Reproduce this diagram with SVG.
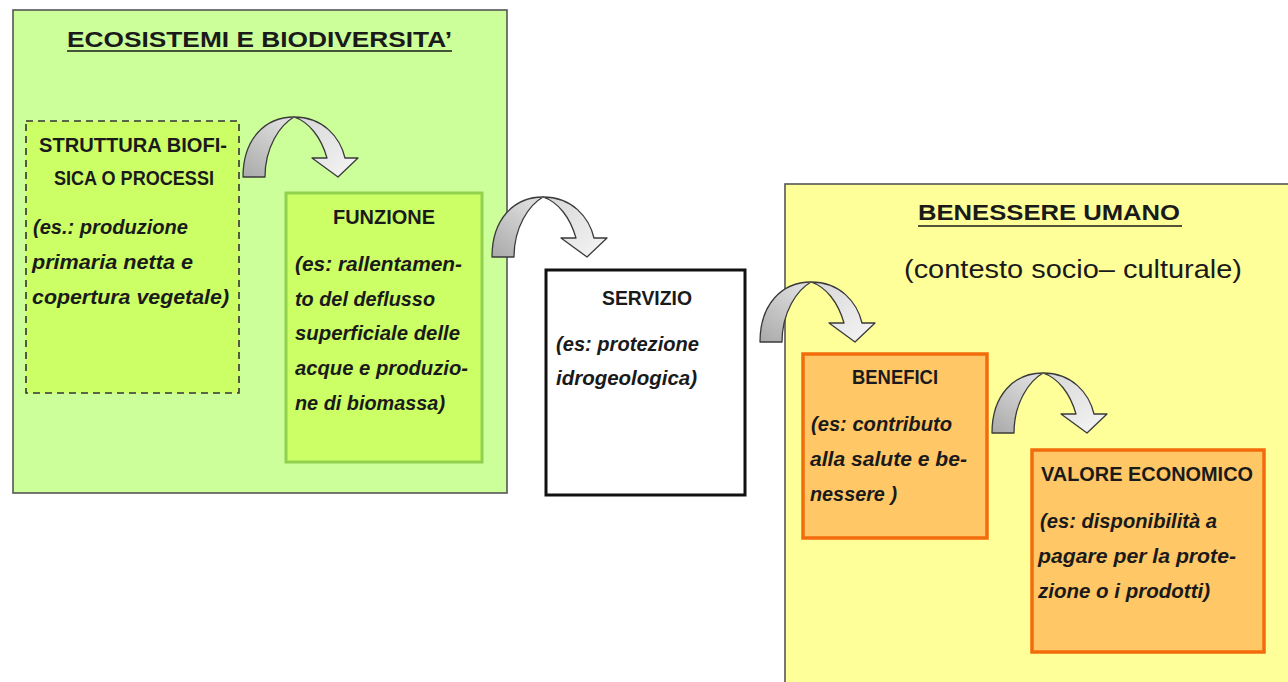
<svg xmlns="http://www.w3.org/2000/svg" width="1288" height="682" viewBox="0 0 1288 682">
<style>
.head{font-family:"Liberation Sans",Arial,sans-serif;font-weight:bold;font-size:20px;fill:#1a1a1a}
.ttl{font-family:"Liberation Sans",Arial,sans-serif;font-weight:bold;font-size:22px;fill:#1a1a1a}
.it{font-family:"Liberation Sans",Arial,sans-serif;font-weight:bold;font-style:italic;font-size:20px;fill:#1a1a1a}
.reg{font-family:"Liberation Sans",Arial,sans-serif;font-size:25px;fill:#1a1a1a}
.ul{stroke:#1a1a1a;stroke-width:1.6}
.ar{stroke:#3a3a3a;stroke-width:1.3;stroke-linejoin:round}
</style>
<defs>
<linearGradient id="gDark" x1="0" y1="1" x2="0.6" y2="0">
<stop offset="0" stop-color="#a9a9a9"/>
<stop offset="1" stop-color="#dcdcdc"/>
</linearGradient>
<linearGradient id="gLight" x1="0" y1="0" x2="1" y2="1">
<stop offset="0" stop-color="#d6d6d6"/>
<stop offset="1" stop-color="#f6f6f6"/>
</linearGradient>
<g id="arrow">
<path class="ar" fill="url(#gDark)" d="M0,0 C0,-38 22,-60 51,-60 C37,-52 22,-30 22,0 Z"/>
<path class="ar" fill="url(#gLight)" d="M51,-60 C80,-60 97,-40 102,-19 L115,-19 L95,0 L69,-19 L84,-19 C78,-40 66,-55 51,-60 Z"/>
</g>
</defs>
<rect width="1288" height="682" fill="#ffffff"/>

<g id="ecosistemi">
<rect x="13" y="10" width="494" height="483" fill="#ccff99" stroke="#555" stroke-width="1.6"/>
<text class="ttl" x="67" y="47" textLength="385" lengthAdjust="spacingAndGlyphs">ECOSISTEMI E BIODIVERSITA’</text>
<line class="ul" x1="67" y1="51" x2="452" y2="51"/>
</g>

<g id="benessere">
<rect x="785" y="184" width="520" height="520" fill="#ffff99" stroke="#555" stroke-width="1.6"/>
<text class="ttl" x="918" y="220" textLength="262" lengthAdjust="spacingAndGlyphs">BENESSERE UMANO</text>
<line class="ul" x1="918" y1="226" x2="1182" y2="226"/>
<text class="reg" x="904" y="278" textLength="338" lengthAdjust="spacingAndGlyphs">(contesto socio– culturale)</text>
</g>

<g id="struttura">
<rect x="26" y="121" width="213" height="272" fill="#ccff66" stroke="#333" stroke-width="1.6" stroke-dasharray="7,5"/>
<text class="head" x="39" y="152" textLength="188" lengthAdjust="spacingAndGlyphs">STRUTTURA BIOFI-</text>
<text class="head" x="54" y="185" textLength="160" lengthAdjust="spacingAndGlyphs">SICA O PROCESSI</text>
<text class="it" x="33" y="234" textLength="155" lengthAdjust="spacingAndGlyphs">(es.: produzione</text>
<text class="it" x="32" y="269" textLength="161" lengthAdjust="spacingAndGlyphs">primaria netta e</text>
<text class="it" x="32" y="304" textLength="197" lengthAdjust="spacingAndGlyphs">copertura vegetale)</text>
</g>

<g id="funzione">
<rect x="286" y="193" width="196" height="269" fill="#ccff66" stroke="#92d050" stroke-width="3"/>
<text class="head" x="333" y="224" textLength="102" lengthAdjust="spacingAndGlyphs">FUNZIONE</text>
<text class="it" x="295" y="271" textLength="167" lengthAdjust="spacingAndGlyphs">(es: rallentamen-</text>
<text class="it" x="295" y="306" textLength="140" lengthAdjust="spacingAndGlyphs">to del deflusso</text>
<text class="it" x="295" y="340" textLength="165" lengthAdjust="spacingAndGlyphs">superficiale delle</text>
<text class="it" x="295" y="375" textLength="173" lengthAdjust="spacingAndGlyphs">acque e produzio-</text>
<text class="it" x="295" y="410" textLength="150" lengthAdjust="spacingAndGlyphs">ne di biomassa)</text>
</g>

<g id="servizio">
<rect x="546" y="270" width="199" height="225" fill="#ffffff" stroke="#111" stroke-width="3"/>
<text class="head" x="602" y="305" textLength="90" lengthAdjust="spacingAndGlyphs">SERVIZIO</text>
<text class="it" x="556" y="351" textLength="143" lengthAdjust="spacingAndGlyphs">(es: protezione</text>
<text class="it" x="556" y="385" textLength="141" lengthAdjust="spacingAndGlyphs">idrogeologica)</text>
</g>

<g id="benefici">
<rect x="803" y="354" width="184" height="184" fill="#ffc766" stroke="#f26c0c" stroke-width="3.5"/>
<text class="head" x="852" y="384" textLength="86" lengthAdjust="spacingAndGlyphs">BENEFICI</text>
<text class="it" x="811" y="431" textLength="141" lengthAdjust="spacingAndGlyphs">(es: contributo</text>
<text class="it" x="810" y="466" textLength="157" lengthAdjust="spacingAndGlyphs">alla salute e be-</text>
<text class="it" x="810" y="501" textLength="87" lengthAdjust="spacingAndGlyphs">nessere )</text>
</g>

<g id="valore">
<rect x="1032" y="450" width="232" height="202" fill="#ffc766" stroke="#f26c0c" stroke-width="3.5"/>
<text class="head" x="1041" y="481" textLength="212" lengthAdjust="spacingAndGlyphs">VALORE ECONOMICO</text>
<text class="it" x="1040" y="528" textLength="177" lengthAdjust="spacingAndGlyphs">(es: disponibilità a</text>
<text class="it" x="1038" y="563" textLength="198" lengthAdjust="spacingAndGlyphs">pagare per la prote-</text>
<text class="it" x="1038" y="598" textLength="172" lengthAdjust="spacingAndGlyphs">zione o i prodotti)</text>
</g>

<g id="connectors">
<use href="#arrow" transform="translate(243,177)"/>
<use href="#arrow" transform="translate(492,257)"/>
<use href="#arrow" transform="translate(760,342)"/>
<use href="#arrow" transform="translate(992,433)"/>
</g>
</svg>
